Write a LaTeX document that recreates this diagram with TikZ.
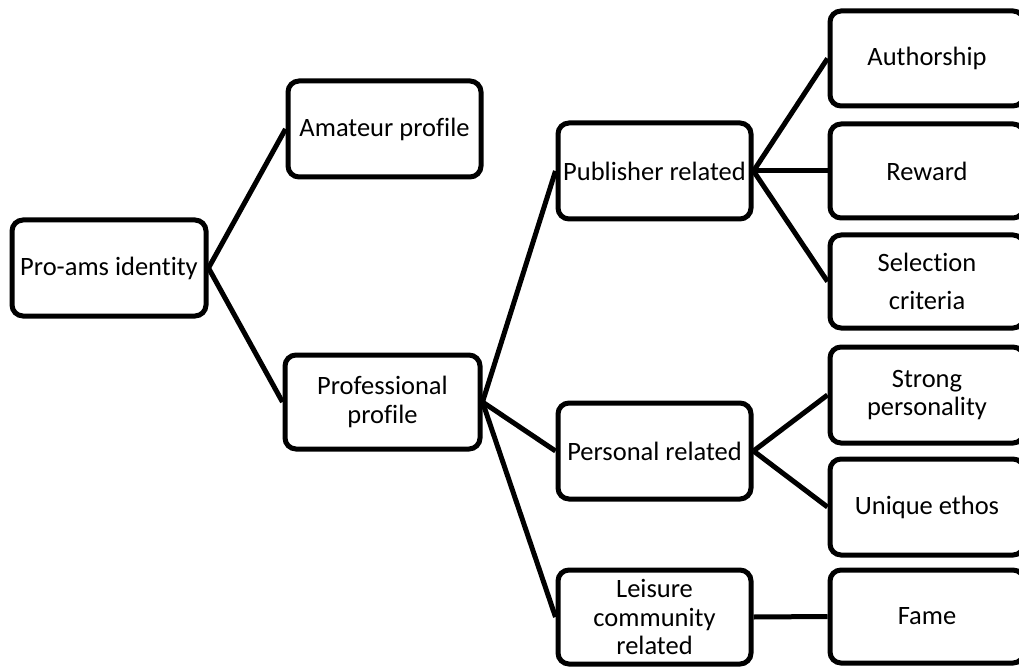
\documentclass[tikz,border=0pt]{standalone}
\usepackage{fontspec}
\setmainfont[Ligatures=NoCommon]{Carlito}
\begin{document}
\begin{tikzpicture}[x=1pt,y=-1pt,
  box/.style={draw=black,line width=5pt,rounded corners=11pt,fill=white,
    inner sep=0pt,align=center,text=black,
    font=\fontsize{26.5}{28.5}\selectfont},
  link/.style={draw=black,line width=5pt}]
\useasboundingbox (0,0) rectangle (1019,668);
\clip (0,0) rectangle (1019,668);

% left column
\node[box,minimum width=194pt,minimum height=96pt] (root) at (109,268) {Pro-ams identity};

% second column
\node[box,minimum width=193pt,minimum height=96pt] (amateur) at (384.5,129) {Amateur profile};
\node[box,minimum width=195pt,minimum height=94pt] (prof) at (382.5,402) {Professional\\profile};

% third column
\node[box,minimum width=193pt,minimum height=96pt] (pub) at (654.5,171) {Publisher related};
\node[box,minimum width=193pt,minimum height=96pt] (pers) at (654.5,451) {Personal related};
\node[box,minimum width=193pt,minimum height=94pt] (leis) at (654.5,617) {Leisure\\community\\related};

% fourth column (runs past the right margin)
\node[box,minimum width=194pt,minimum height=95pt] (auth) at (927,58.5) {Authorship};
\node[box,minimum width=194pt,minimum height=94pt] (rew) at (927,171) {Reward};
\node[box,minimum width=194pt,minimum height=93pt] (sel) at (927,281.5) {Selection\\[9.5pt]criteria};
\node[box,minimum width=194pt,minimum height=96pt] (strong) at (927,395) {Strong\\personality};
\node[box,minimum width=194pt,minimum height=96pt] (uniq) at (927,507) {Unique ethos};
\node[box,minimum width=194pt,minimum height=93pt] (fame) at (927,616.5) {Fame};

% connectors
\draw[link] (root.east) -- (amateur.west);
\draw[link] (root.east) -- (prof.west);
\draw[link] (prof.east) -- (pub.west);
\draw[link] (prof.east) -- (pers.west);
\draw[link] (prof.east) -- (leis.west);
\draw[link] (pub.east) -- (auth.west);
\draw[link] (pub.east) -- (rew.west);
\draw[link] (pub.east) -- (sel.west);
\draw[link] (pers.east) -- (strong.west);
\draw[link] (pers.east) -- (uniq.west);
\draw[link] (leis.east) -- (fame.west);
\end{tikzpicture}
\end{document}
